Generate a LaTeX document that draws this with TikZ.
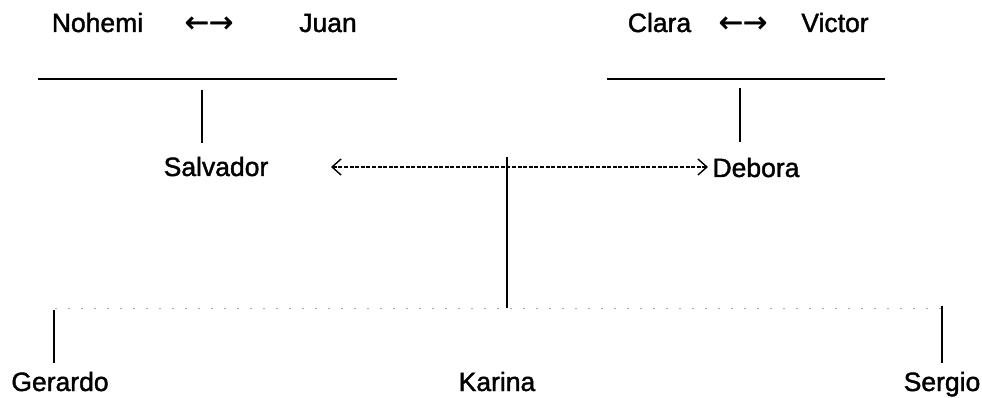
\documentclass[tikz,border=0pt]{standalone}
\usepackage{fontspec}
\setmainfont{Liberation Sans}
\newfontfamily\namefont[FakeBold=1.5]{Liberation Sans}
\newfontfamily\arrowfont[FakeBold=1.2]{DejaVu Sans}
\usetikzlibrary{arrows.meta}
\tikzset{
  person/.style={inner sep=0pt, anchor=base, font=\namefont\fontsize{26.5}{30}\selectfont},
  link/.style={inner sep=0pt, anchor=base, font=\arrowfont\fontsize{29}{32}\selectfont},
  rule/.style={line width=1.6pt},
  stem/.style={line width=2.2pt},
  faint/.style={line width=0.9pt, gray!70, dash pattern=on 2pt off 11pt},
  union/.style={line width=1.1pt, dash pattern=on 4pt off 1.6pt,
    {Straight Barb[length=9pt,width=16pt,line width=1.4pt]}-{Straight Barb[length=9pt,width=16pt,line width=1.4pt]}}
}
\begin{document}
\begin{tikzpicture}[x=1pt,y=-1pt]
\useasboundingbox (0,0) rectangle (982,398);
% top row
\node[person] (nohemi) at (97.5,32) {Nohemi};
\node[link] (a1) at (209,32) {←→};
\node[person] (juan) at (328,32) {Juan};
\node[person] (clara) at (659.5,32) {Clara};
\node[link] (a2) at (743,32) {←→};
\node[person] (victor) at (835,32) {Victor};
% parent lines
\coordinate (l1) at (38,79); \coordinate (r1) at (397,79);
\coordinate (l2) at (607,79); \coordinate (r2) at (885,79);
\draw[rule] (l1) -- (r1);
\draw[rule] (l2) -- (r2);
\coordinate (s1) at (202,90); \coordinate (s2) at (202,143);
\coordinate (d1) at (740,88); \coordinate (d2) at (740,142);
\draw[stem] (s1) -- (s2);
\draw[stem] (d1) -- (d2);
% middle row
\node[person] (salvador) at (216,176) {Salvador};
\node[person] (debora) at (756,177) {Debora};
\coordinate (al) at (331,167); \coordinate (ar) at (708,167);
\draw[union] (al) -- (ar);
% children
\coordinate (k1) at (507,157); \coordinate (k2) at (507,308);
\draw[stem] (k1) -- (k2);
\coordinate (b1) at (55,308); \coordinate (b2) at (942,308);
\draw[faint] (b1) -- (b2);
\coordinate (g1) at (54,310); \coordinate (g2) at (54,363);
\coordinate (e1) at (942,306); \coordinate (e2) at (942,363);
\draw[stem] (g1) -- (g2);
\draw[stem] (e1) -- (e2);
\node[person] (gerardo) at (60,391) {Gerardo};
\node[person] (karina) at (497,391) {Karina};
\node[person] (sergio) at (942,391) {Sergio};
\end{tikzpicture}
\end{document}
